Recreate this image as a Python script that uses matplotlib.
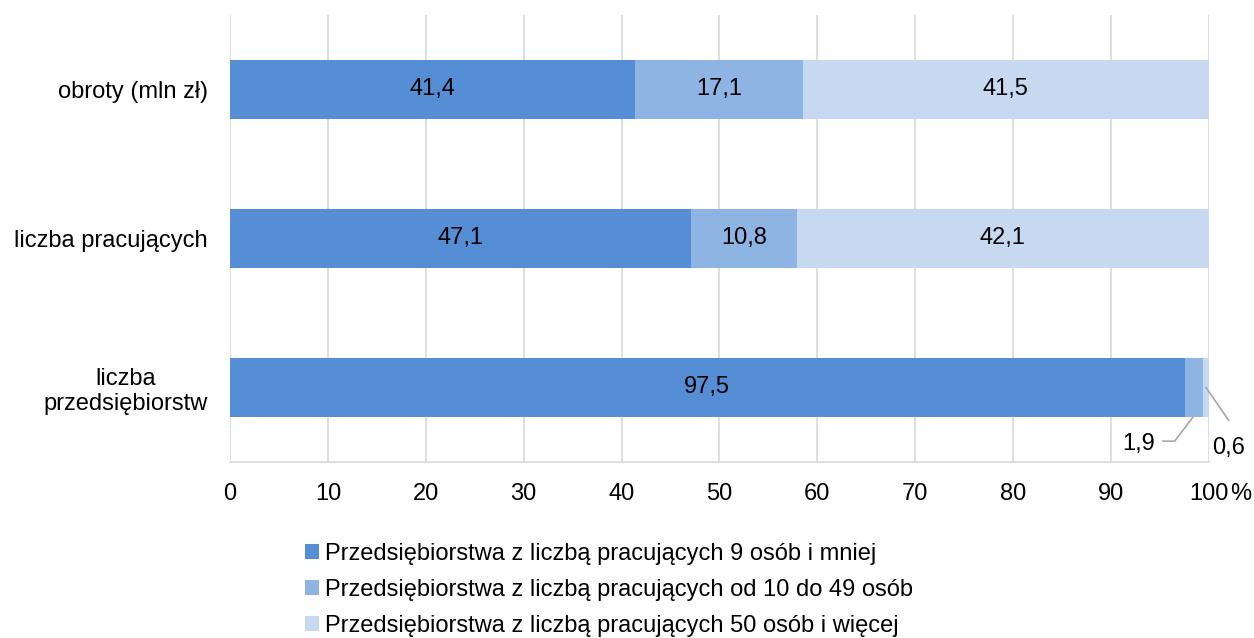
import matplotlib
matplotlib.use("Agg")
import matplotlib.pyplot as plt
import numpy as np

plt.rcParams['font.family'] = ['Liberation Sans', 'DejaVu Sans']

kategorie = ["liczba\nprzedsiębiorstw", "liczba pracujących", "obroty (mln zł)"]
do_9 = [97.5, 47.1, 41.4]
od_10_do_49 = [1.9, 10.8, 17.1]
od_50 = [0.6, 42.1, 41.5]
serie = [
    "Przedsiębiorstwa z liczbą pracujących 9 osób i mniej",
    "Przedsiębiorstwa z liczbą pracujących od 10 do 49 osób",
    "Przedsiębiorstwa z liczbą pracujących 50 osób i więcej",
]
kolory = ["#558ED5", "#8EB4E3", "#C6D9F1"]
ticki_x = [0, 10, 20, 30, 40, 50, 60, 70, 80, 90, 100]

FS = 17
fig = plt.figure(figsize=(12.54, 6.38), dpi=100)
ax = fig.add_axes([0.1834, 0.2759, 0.7807, 0.7006])

y = np.arange(len(kategorie))
lewo = np.zeros(len(kategorie))
for wartosci, kolor, nazwa in zip([do_9, od_10_do_49, od_50], kolory, serie):
    wartosci = np.array(wartosci)
    ax.barh(y, wartosci, left=lewo, height=0.4, color=kolor, label=nazwa, zorder=3)
    for i, v in enumerate(wartosci):
        if v >= 5:
            ax.text(lewo[i] + v / 2, y[i], f"{v:.1f}".replace(".", ","),
                    ha="center", va="center", fontsize=FS, color="black", zorder=4)
    lewo = lewo + wartosci

# small segments of the bottom bar: labels with leader lines
szary = "#A6A6A6"
y_lab = -0.36
x_mid = do_9[0] + od_10_do_49[0] / 2
ax.plot([x_mid - 3.15, x_mid - 1.95, x_mid - 0.1], [y_lab, y_lab, -0.2],
        color=szary, lw=1.2, clip_on=False, zorder=4)
ax.text(x_mid - 3.95, y_lab - 0.016, f"{od_10_do_49[0]:.1f}".replace(".", ","),
        ha="right", va="center", fontsize=FS)
x_mid2 = do_9[0] + od_10_do_49[0] + od_50[0] / 2
ax.plot([x_mid2, 102.0], [0.0, -0.22], color=szary, lw=1.2, clip_on=False, zorder=4)
ax.text(102.0, y_lab - 0.045, f"{od_50[0]:.1f}".replace(".", ","),
        ha="center", va="center", fontsize=FS)

ax.set_xlim(0, 100)
ax.set_ylim(-0.5, 2.5)
ax.set_xticks(ticki_x)
ax.set_xticklabels([str(t) for t in ticki_x])
ax.annotate("%", xy=(1, 0), xycoords="axes fraction", xytext=(15, -15),
            textcoords="offset points", ha="left", va="top", fontsize=FS)
ax.set_yticks(y)
ax.set_yticklabels(kategorie, multialignment="center")
ax.tick_params(axis="x", length=0, pad=15, labelsize=FS)
ax.tick_params(axis="y", length=0, pad=16, labelsize=FS)

ax.grid(axis="x", color="#D9D9D9", lw=1.2, zorder=0)
for s in ["top", "right", "left"]:
    ax.spines[s].set_visible(False)
ax.spines["bottom"].set_color("#D9D9D9")
ax.spines["bottom"].set_linewidth(1.2)

fig.legend(loc="upper left", bbox_to_anchor=(0.2434, 0.149), frameon=False,
           fontsize=FS, handlelength=0.6, handleheight=0.6, handletextpad=0.25,
           labelspacing=0.59, borderpad=0, borderaxespad=0)

fig.savefig("out.png", dpi=100)
